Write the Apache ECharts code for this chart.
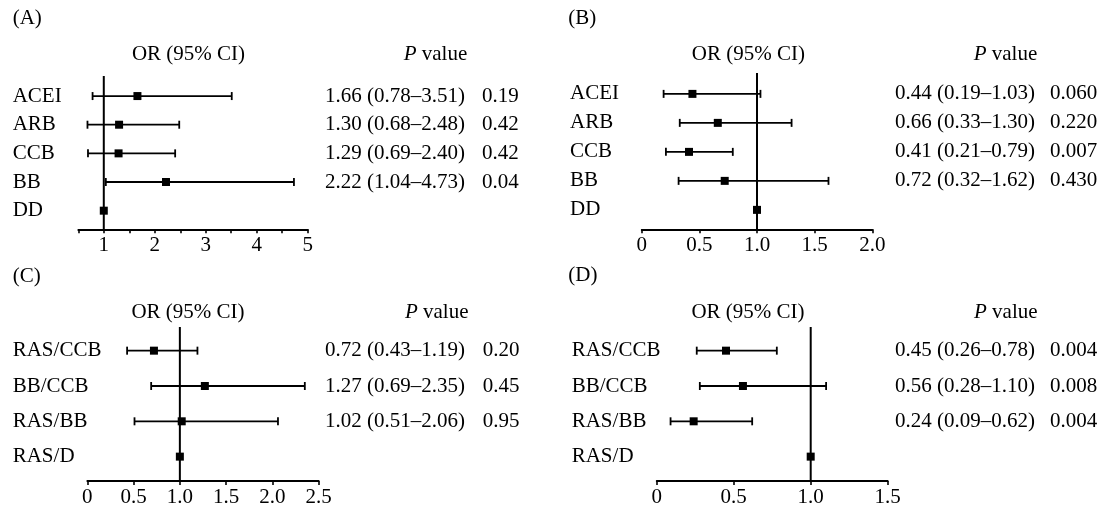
<!DOCTYPE html>
<html>
<head>
<meta charset="utf-8">
<script src="https://cdn.jsdelivr.net/npm/echarts@6/dist/echarts.min.js"></script>
<style>
html,body{margin:0;padding:0;background:#fff;}
#main{width:1108px;height:508px;}
</style>
</head>
<body>
<div id="main"></div>
<script>
// panel A / B : single drugs
var drugLabels = ['ACEI', 'ARB', 'CCB', 'BB', 'DD'];
var orA = [1.66, 1.30, 1.29, 2.22, 1];
var lowA = [0.78, 0.68, 0.69, 1.04, null];
var highA = [3.51, 2.48, 2.40, 4.73, null];
var pA = ['0.19', '0.42', '0.42', '0.04', ''];

var orB = [0.44, 0.66, 0.41, 0.72, 1];
var lowB = [0.19, 0.33, 0.21, 0.32, null];
var highB = [1.03, 1.30, 0.79, 1.62, null];
var pB = ['0.060', '0.220', '0.007', '0.430', ''];

// panel C / D : combinations
var comboLabels = ['RAS/CCB', 'BB/CCB', 'RAS/BB', 'RAS/D'];
var orC = [0.72, 1.27, 1.02, 1];
var lowC = [0.43, 0.69, 0.51, null];
var highC = [1.19, 2.35, 2.06, null];
var pC = ['0.20', '0.45', '0.95', ''];

var orD = [0.45, 0.56, 0.24, 1];
var lowD = [0.26, 0.28, 0.09, null];
var highD = [0.78, 1.10, 0.62, null];
var pD = ['0.004', '0.008', '0.004', ''];

var refOR = 1;

var FONT = "'Liberation Serif', 'Times New Roman', serif";
var FS = 21;

var panels = [
    {tag: '(A)', labels: drugLabels, or: orA, low: lowA, high: highA, p: pA,
     left: 78.3, right: 800.3, top: 76, bottom: 278.7, xmin: 0.5, xmax: 5, ymin: -0.7, ymax: 4.65,
     labelX: 12.7, orX: 325, pX: 482, headX: 188.5, headY: 54, pvX: 435.5, tagX: 12.7, tagY: 18,
     fmt: function (v) { return v % 1 === 0 ? String(v) : ''; }},
    {tag: '(B)', labels: drugLabels, or: orB, low: lowB, high: highB, p: pB,
     left: 641.7, right: 235.7, top: 73, bottom: 278.7, xmin: 0, xmax: 2, ymin: -0.72, ymax: 4.67,
     labelX: 570, orX: 895, pX: 1050, headX: 748.3, headY: 54, pvX: 1005.5, tagX: 568.3, tagY: 18,
     fmt: function (v) { return v === 0 ? '0' : v.toFixed(1); }},
    {tag: '(C)', labels: comboLabels, or: orC, low: lowC, high: highC, p: pC,
     left: 87.3, right: 789.3, top: 327, bottom: 26.3, xmin: 0, xmax: 2.5, ymin: -0.67, ymax: 3.69,
     labelX: 12.7, orX: 325, pX: 482.7, headX: 188, headY: 312, pvX: 436.7, tagX: 12.7, tagY: 276,
     fmt: function (v) { return v === 0 ? '0' : v.toFixed(1); }},
    {tag: '(D)', labels: comboLabels, or: orD, low: lowD, high: highD, p: pD,
     left: 656.7, right: 220.3, top: 327, bottom: 26.3, xmin: 0, xmax: 1.5, ymin: -0.67, ymax: 3.69,
     labelX: 571.7, orX: 895, pX: 1050, headX: 748, headY: 312, pvX: 1005.8, tagX: 568.3, tagY: 275,
     fmt: function (v) { return v === 0 ? '0' : v.toFixed(1); }}
];

function txt(s, x, y, align) {
    return {
        type: 'text', x: x, y: y, silent: true,
        style: {text: s, fill: '#000', font: FS + 'px ' + FONT,
                align: align, verticalAlign: 'middle', textAlign: align, textVerticalAlign: 'middle'}
    };
}

function makeRender(pn) {
    return function (params, api) {
        var i = params.dataIndex;
        var c = api.coord([pn.or[i], i]);
        var kids = [];
        if (pn.low[i] != null) {
            var a = api.coord([pn.low[i], i]);
            var b = api.coord([pn.high[i], i]);
            var ls = {stroke: '#000', lineWidth: 1.8};
            kids.push({type: 'line', shape: {x1: a[0], y1: a[1], x2: b[0], y2: b[1]}, style: ls});
            kids.push({type: 'line', shape: {x1: a[0], y1: a[1] - 4, x2: a[0], y2: a[1] + 4}, style: ls});
            kids.push({type: 'line', shape: {x1: b[0], y1: b[1] - 4, x2: b[0], y2: b[1] + 4}, style: ls});
            var ci = pn.or[i].toFixed(2) + ' (' + pn.low[i].toFixed(2) + '\u2013' + pn.high[i].toFixed(2) + ')';
            kids.push(txt(ci, pn.orX, c[1], 'left'));
            kids.push(txt(pn.p[i], pn.pX, c[1], 'left'));
        }
        kids.push({type: 'rect', shape: {x: c[0] - 4, y: c[1] - 4, width: 8, height: 8}, style: {fill: '#000'}});
        kids.push(txt(pn.labels[i], pn.labelX, c[1], 'left'));
        return {type: 'group', children: kids};
    };
}

var grids = [], xAxes = [], yAxes = [], series = [], graphics = [];
panels.forEach(function (pn, k) {
    grids.push({left: pn.left, right: pn.right, top: pn.top, bottom: pn.bottom});
    xAxes.push({
        type: 'value', gridIndex: k, position: 'bottom', min: pn.xmin, max: pn.xmax, interval: 0.5,
        axisLine: {show: true, onZero: false, lineStyle: {color: '#000', width: 1.8}},
        axisTick: {show: true, length: 4, lineStyle: {color: '#000', width: 1.6}},
        splitLine: {show: false},
        axisLabel: {color: '#000', fontFamily: FONT, fontSize: FS, margin: 6, formatter: pn.fmt,
                    showMinLabel: true, showMaxLabel: true}
    });
    yAxes.push({type: 'value', gridIndex: k, inverse: true, min: pn.ymin, max: pn.ymax, show: false,
                axisLine: {onZero: false}});
    series.push({
        type: 'line', xAxisIndex: k, yAxisIndex: k, showSymbol: false, silent: true,
        data: [[refOR, pn.ymin], [refOR, pn.ymax]],
        lineStyle: {color: '#000', width: 2}
    });
    series.push({
        type: 'custom', xAxisIndex: k, yAxisIndex: k, silent: true, clip: false,
        data: pn.or.map(function (v, i) { return [v, i]; }),
        renderItem: makeRender(pn)
    });
    graphics.push(txt(pn.tag, pn.tagX, pn.tagY, 'left'));
    graphics.push(txt('OR (95% CI)', pn.headX, pn.headY, 'center'));
    graphics.push({
        type: 'text', x: pn.pvX, y: pn.headY, silent: true,
        style: {
            text: '{i|P} value', fill: '#000', font: FS + 'px ' + FONT,
            fontFamily: FONT, fontSize: FS,
            align: 'center', verticalAlign: 'middle', textAlign: 'center', textVerticalAlign: 'middle',
            rich: {i: {fontStyle: 'italic', fontFamily: FONT, fontSize: FS, fill: '#000'}}
        }
    });
});

var chart = echarts.init(document.getElementById('main'));
chart.setOption({
    animation: false,
    backgroundColor: '#fff',
    grid: grids,
    xAxis: xAxes,
    yAxis: yAxes,
    series: series,
    graphic: graphics
});
</script>
</body>
</html>
